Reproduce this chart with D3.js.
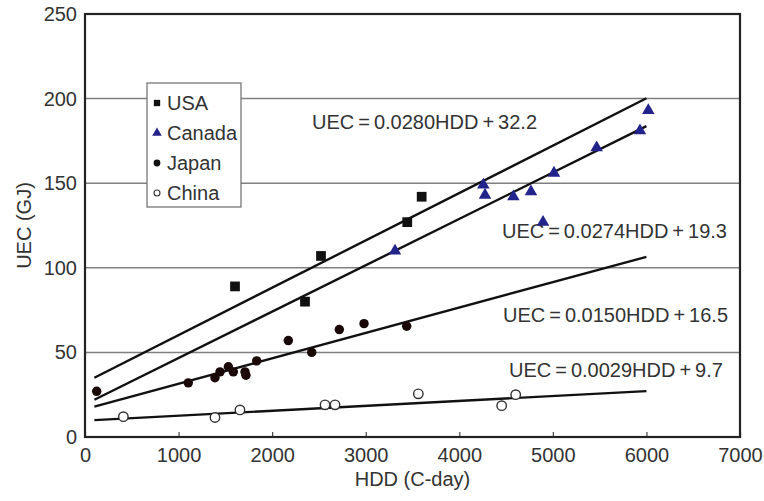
<!DOCTYPE html>
<html>
<head>
<meta charset="utf-8">
<script src="https://cdn.jsdelivr.net/npm/d3@7"></script>
<style>
  body { margin: 0; background: #fff; }
  svg text { font-family: "Liberation Sans", Arial, sans-serif; fill: #333; }
</style>
</head>
<body>
<svg id="mysvg"></svg>
<script>
const w = 764, h = 501;
const margin = {left: 85, right: 24, top: 14, bottom: 64};

// data
const xTicks = [0, 1000, 2000, 3000, 4000, 5000, 6000, 7000];
const yTicks = [0, 50, 100, 150, 200, 250];

const usaHDD = [1603, 2351, 2522, 3444, 3598];
const usaUEC = [89, 80, 107, 127, 142];

const canadaHDD = [3313, 4257, 4275, 4578, 4766, 4895, 5012, 5468, 5931, 6020];
const canadaUEC = [110, 149, 143, 142, 145, 127, 156, 171, 181, 193];

const japanHDD = [125, 1104, 1389, 1443, 1532, 1585, 1710, 1720, 1835, 2173, 2423, 2718, 2982, 3438];
const japanUEC = [27, 32, 35, 38.5, 41.5, 38.5, 38.5, 36.5, 45, 57, 50, 63.5, 67, 65.5];

const chinaHDD = [410, 1389, 1656, 2565, 2672, 3562, 4453, 4603];
const chinaUEC = [12, 11.5, 16, 19, 19, 25.5, 18.5, 25];

const countries = ["USA", "Canada", "Japan", "China"];
const slopes = [0.0280, 0.0274, 0.0150, 0.0029];
const intercepts = [32.2, 19.3, 16.5, 9.7];
const fitRange = [100, 6000];
const equations = [
    "UEC\u2009=\u20090.0280HDD\u2009+\u200932.2",
    "UEC\u2009=\u20090.0274HDD\u2009+\u200919.3",
    "UEC\u2009=\u20090.0150HDD\u2009+\u200916.5",
    "UEC\u2009=\u20090.0029HDD\u2009+\u20099.7"
];

const svg = d3.select("#mysvg")
    .attr("width", w)
    .attr("height", h);

const xScale = d3.scaleLinear()
    .domain([0, 7000])
    .range([margin.left, w - margin.right]);

const yScale = d3.scaleLinear()
    .domain([0, 250])
    .range([h - margin.bottom, margin.top]);

// horizontal grid
svg.append("g")
    .selectAll("line")
    .data(yTicks.filter(d => d > 0 && d < 250))
    .enter().append("line")
    .attr("x1", xScale(0))
    .attr("x2", xScale(7000))
    .attr("y1", d => yScale(d))
    .attr("y2", d => yScale(d))
    .attr("stroke", "#808080")
    .attr("stroke-width", 1.5);

// X axis, ticks pointing inward
const xAxis = svg.append("g")
    .attr("transform", "translate(0," + yScale(0) + ")")
    .call(d3.axisBottom(xScale).tickValues(xTicks).tickSize(-5).tickPadding(11).tickFormat(d3.format("d")));
xAxis.select(".domain").remove();
xAxis.selectAll("line").attr("stroke", "#444").attr("stroke-width", 1.2);
xAxis.selectAll("text").style("font-size", "20px").attr("fill", "#333");

// Y axis
const yAxis = svg.append("g")
    .attr("transform", "translate(" + xScale(0) + ",0)")
    .call(d3.axisLeft(yScale).tickValues(yTicks).tickSize(0).tickPadding(8));
yAxis.select(".domain").remove();
yAxis.selectAll("text").style("font-size", "20px").attr("fill", "#333");

// frame
svg.append("rect")
    .attr("x", xScale(0))
    .attr("y", yScale(250))
    .attr("width", xScale(7000) - xScale(0))
    .attr("height", yScale(0) - yScale(250))
    .attr("fill", "none")
    .attr("stroke", "#222")
    .attr("stroke-width", 2.2);

// regression lines
const line = d3.line()
    .x(d => xScale(d[0]))
    .y(d => yScale(d[1]));

slopes.forEach((s, i) => {
    svg.append("path")
        .datum(fitRange.map(x => [x, s * x + intercepts[i]]))
        .attr("fill", "none")
        .attr("stroke", "#111")
        .attr("stroke-width", 2.4)
        .attr("d", line);
});

// equation labels
const eqX = [2426, 4456, 4467, 4531];
const eqY = [186, 122, 72, 39.6];
svg.append("g")
    .selectAll("text")
    .data(equations)
    .enter().append("text")
    .attr("x", (d, i) => xScale(eqX[i]))
    .attr("y", (d, i) => yScale(eqY[i]))
    .attr("dy", "0.36em")
    .style("font-size", "20px")
    .attr("fill", "#333")
    .text(d => d);

// points
const sym = d3.symbol();
function drawPoints(xs, ys, type, size, fill, stroke) {
    svg.append("g")
        .selectAll("path")
        .data(xs)
        .enter().append("path")
        .attr("transform", (d, i) => "translate(" + xScale(d) + "," + yScale(ys[i]) + ")")
        .attr("d", sym.type(type).size(size)())
        .attr("fill", fill)
        .attr("stroke", stroke)
        .attr("stroke-width", 1.4);
}
drawPoints(usaHDD, usaUEC, d3.symbolSquare, 95, "#111", "none");
drawPoints(canadaHDD, canadaUEC, d3.symbolTriangle, 68, "#23238c", "none");
drawPoints(japanHDD, japanUEC, d3.symbolCircle, 70, "#1a0808", "none");
drawPoints(chinaHDD, chinaUEC, d3.symbolCircle, 70, "#fff", "#333");

// legend
const legend = svg.append("g").attr("transform", "translate(147,83)");
legend.append("rect")
    .attr("width", 94)
    .attr("height", 124)
    .attr("fill", "#fff")
    .attr("stroke", "#777")
    .attr("stroke-width", 1.3);

const legendTypes = [d3.symbolSquare, d3.symbolTriangle, d3.symbolCircle, d3.symbolCircle];
const legendFill = ["#111", "#23238c", "#111", "#fff"];
const legendStroke = ["none", "none", "none", "#333"];
const legendSize = [40, 40, 36, 28];

countries.forEach((c, i) => {
    const gy = 20 + i * 30;
    legend.append("path")
        .attr("transform", "translate(10," + gy + ")")
        .attr("d", sym.type(legendTypes[i]).size(legendSize[i])())
        .attr("fill", legendFill[i])
        .attr("stroke", legendStroke[i])
        .attr("stroke-width", 1.1);
    legend.append("text")
        .attr("x", 20)
        .attr("y", gy)
        .attr("dy", "0.36em")
        .style("font-size", "20px")
        .attr("fill", "#333")
        .text(c);
});

// axis titles
svg.append("text")
    .attr("transform", "translate(24," + yScale(125) + ") rotate(-90)")
    .attr("text-anchor", "middle")
    .attr("dy", "0.35em")
    .style("font-size", "20px")
    .attr("fill", "#333")
    .text("UEC (GJ)");

svg.append("text")
    .attr("x", xScale(3500))
    .attr("y", 479)
    .attr("text-anchor", "middle")
    .attr("dy", "0.35em")
    .style("font-size", "20px")
    .attr("fill", "#333")
    .text("HDD (C-day)");
</script>
</body>
</html>
